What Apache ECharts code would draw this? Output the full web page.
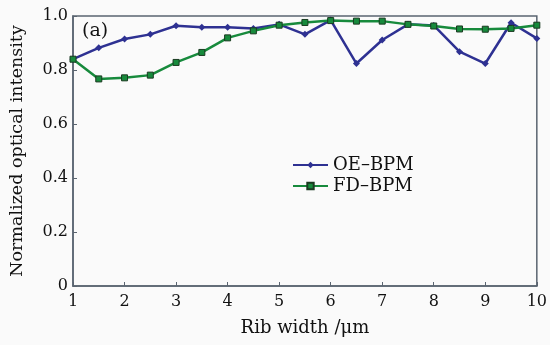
<!DOCTYPE html>
<html><head><meta charset="utf-8">
<script src="https://cdn.jsdelivr.net/npm/echarts@6/dist/echarts.min.js"></script>
<style>html,body{margin:0;padding:0;background:#fafafa}#c{width:550px;height:345px}</style>
</head><body><div id="c"></div>
<script>
const ribWidth = [1,1.5,2,2.5,3,3.5,4,4.5,5,5.5,6,6.5,7,7.5,8,8.5,9,9.5,10];
const oeBpm = [0.84,0.882,0.915,0.932,0.964,0.958,0.958,0.954,0.969,0.932,0.985,0.824,0.911,0.969,0.965,0.868,0.824,0.975,0.917];
const fdBpm = [0.84,0.767,0.771,0.781,0.828,0.865,0.919,0.945,0.966,0.976,0.983,0.981,0.981,0.969,0.963,0.952,0.951,0.954,0.966];
const xTicks = [1,2,3,4,5,6,7,8,9,10];
const yTicks = [0,0.2,0.4,0.6,0.8,1.0];
const font = 'DejaVu Serif';
const axisCol = '#5a6470';
const chart = echarts.init(document.getElementById('c'));
chart.setOption({
  backgroundColor:'#fafafa',
  animation:false,
  textStyle:{fontFamily:font},
  grid:{left:72,right:13,top:16,bottom:59,show:true,borderColor:axisCol,borderWidth:1.5,backgroundColor:'transparent'},
  graphic:[{type:'text',left:82,top:22,style:{text:'(a)',font:'19px "DejaVu Serif"',fill:'#111'}}],
  legend:{left:287,top:151,orient:'vertical',itemWidth:35,itemHeight:8,itemGap:3,
    textStyle:{fontFamily:font,fontSize:18,color:'#111'},
    data:['OE–BPM','FD–BPM']},
  xAxis:{type:'value',min:1,max:10,interval:1,
    name:'Rib width /μm',nameLocation:'middle',nameGap:33,
    nameTextStyle:{fontFamily:font,fontSize:18,color:'#111'},
    axisLine:{lineStyle:{color:axisCol,width:1.5}},
    axisTick:{inside:true,length:4,lineStyle:{color:axisCol}},
    axisLabel:{fontFamily:font,fontSize:16,color:'#111',margin:8,formatter:v=>xTicks.includes(v)?String(v):''},
    splitLine:{show:false}},
  yAxis:{type:'value',min:0,max:1,interval:0.2,
    name:'Normalized optical intensity',nameLocation:'middle',nameGap:47,
    nameTextStyle:{fontFamily:font,fontSize:17.5,color:'#111'},
    axisLine:{show:true,lineStyle:{color:axisCol,width:1.5}},
    axisTick:{show:true,inside:true,length:4,lineStyle:{color:axisCol}},
    axisLabel:{fontFamily:font,fontSize:16,color:'#111',margin:5,
      formatter:v=>{const t=yTicks.find(x=>Math.abs(x-v)<1e-9);return t===undefined?'':(t===0?'0':t.toFixed(1));}},
    splitLine:{show:false}},
  series:[
    {name:'OE–BPM',type:'line',data:ribWidth.map((x,i)=>[x,oeBpm[i]]),
      symbol:'diamond',symbolSize:7,
      lineStyle:{color:'#2e3192',width:2.5},itemStyle:{color:'#2e3192'}},
    {name:'FD–BPM',type:'line',data:ribWidth.map((x,i)=>[x,fdBpm[i]]),
      symbol:'rect',symbolSize:6,
      lineStyle:{color:'#178a3c',width:2.5},itemStyle:{color:'#178a3c',borderColor:'#1a3a20',borderWidth:1}}
  ]
});
</script></body></html>
